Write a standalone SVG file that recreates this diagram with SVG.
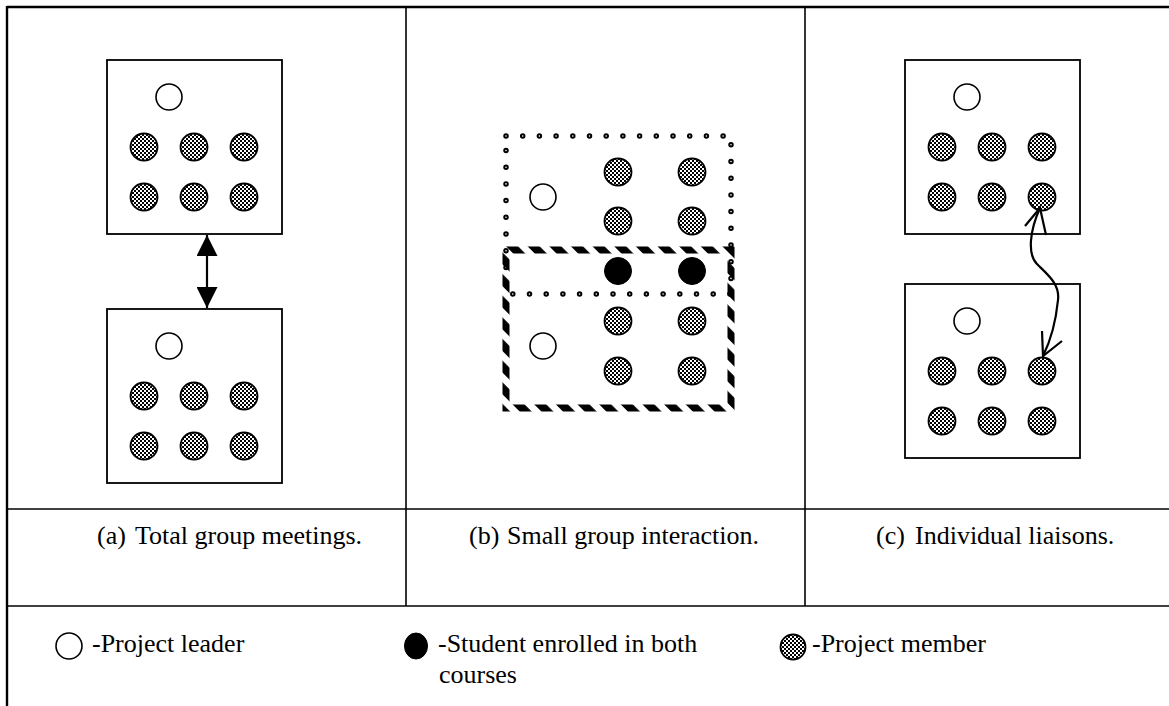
<svg xmlns="http://www.w3.org/2000/svg" width="1169" height="706" viewBox="0 0 1169 706">
<style>
.frame{stroke:#000;stroke-width:2.4;fill:none}
.div{stroke:#000;stroke-width:1.6;fill:none}
.box{stroke:#000;stroke-width:1.8;fill:none}
.leader{fill:#fff;stroke:#000;stroke-width:1.6}
.member{fill:url(#checker);stroke:#000;stroke-width:1.8}
.both{fill:#000;stroke:#000;stroke-width:1}
.txt{font-family:"Liberation Serif","Times New Roman",serif;font-size:26px;fill:#000}
.conn{stroke:#000;stroke-width:2.2;fill:none}
.dots{fill:none;stroke-linecap:round;stroke-dasharray:0 16.7}
</style>
<defs>
<pattern id="checker" width="4" height="4" patternUnits="userSpaceOnUse">
<rect width="4" height="4" fill="#fff"/>
<rect width="2" height="2" fill="#000"/>
<rect x="2" y="2" width="2" height="2" fill="#000"/>
</pattern>
<pattern id="stripes" width="15.3" height="15.3" patternUnits="userSpaceOnUse" patternTransform="rotate(-45)">
<rect width="8.5" height="15.3" fill="#000"/>
</pattern>
<marker id="tri" viewBox="0 0 10 10" refX="10" refY="5" markerWidth="21" markerHeight="21" markerUnits="userSpaceOnUse" orient="auto-start-reverse">
<path d="M0,0 L10,5 L0,10 z" fill="#000"/>
</marker>
</defs>

<g id="table">
<line class="frame" x1="7" y1="7" x2="1169" y2="7"/>
<line class="frame" x1="7" y1="6" x2="7" y2="706"/>
<line class="div" x1="406" y1="7" x2="406" y2="606"/>
<line class="div" x1="805" y1="7" x2="805" y2="606"/>
<line class="div" x1="7" y1="509" x2="1169" y2="509"/>
<line class="div" x1="7" y1="606" x2="1169" y2="606"/>
</g>

<g id="a-top">
<rect class="box" x="107" y="60" width="175" height="174"/>
<circle class="leader" cx="169" cy="97" r="13"/>
<circle class="member" cx="144" cy="147" r="13.5"/>
<circle class="member" cx="194" cy="147" r="13.5"/>
<circle class="member" cx="244" cy="147" r="13.5"/>
<circle class="member" cx="144" cy="197" r="13.5"/>
<circle class="member" cx="194" cy="197" r="13.5"/>
<circle class="member" cx="244" cy="197" r="13.5"/>
</g>
<g id="a-bottom">
<rect class="box" x="107" y="309" width="175" height="174"/>
<circle class="leader" cx="169" cy="346" r="13"/>
<circle class="member" cx="144" cy="396" r="13.5"/>
<circle class="member" cx="194" cy="396" r="13.5"/>
<circle class="member" cx="244" cy="396" r="13.5"/>
<circle class="member" cx="144" cy="446" r="13.5"/>
<circle class="member" cx="194" cy="446" r="13.5"/>
<circle class="member" cx="244" cy="446" r="13.5"/>
</g>

<g id="b-groups">
<rect class="dots" x="506" y="136" width="225" height="158" stroke="#000" stroke-width="5.5"/>
<rect class="dots" x="506" y="136" width="225" height="158" stroke="#fff" stroke-width="1.6"/>
<rect x="506" y="250" width="225" height="158" fill="none" stroke="url(#stripes)" stroke-width="7"/>
<circle class="leader" cx="543" cy="197" r="13"/>
<circle class="member" cx="618" cy="172" r="13.5"/>
<circle class="member" cx="692" cy="172" r="13.5"/>
<circle class="member" cx="618" cy="221" r="13.5"/>
<circle class="member" cx="692" cy="221" r="13.5"/>
<circle class="both" cx="618" cy="271" r="13.5"/>
<circle class="both" cx="692" cy="271" r="13.5"/>
<circle class="leader" cx="543" cy="346" r="13"/>
<circle class="member" cx="618" cy="321" r="13.5"/>
<circle class="member" cx="692" cy="321" r="13.5"/>
<circle class="member" cx="618" cy="371" r="13.5"/>
<circle class="member" cx="692" cy="371" r="13.5"/>
</g>

<g id="c-top">
<rect class="box" x="905" y="60" width="175" height="174"/>
<circle class="leader" cx="967" cy="97" r="13"/>
<circle class="member" cx="942" cy="147" r="13.5"/>
<circle class="member" cx="992" cy="147" r="13.5"/>
<circle class="member" cx="1042" cy="147" r="13.5"/>
<circle class="member" cx="942" cy="197" r="13.5"/>
<circle class="member" cx="992" cy="197" r="13.5"/>
<circle class="member" cx="1042" cy="197" r="13.5"/>
</g>
<g id="c-bottom">
<rect class="box" x="905" y="284" width="175" height="174"/>
<circle class="leader" cx="967" cy="321" r="13"/>
<circle class="member" cx="942" cy="371" r="13.5"/>
<circle class="member" cx="992" cy="371" r="13.5"/>
<circle class="member" cx="1042" cy="371" r="13.5"/>
<circle class="member" cx="942" cy="421" r="13.5"/>
<circle class="member" cx="992" cy="421" r="13.5"/>
<circle class="member" cx="1042" cy="421" r="13.5"/>
</g>

<g id="connectors">
<line class="conn" x1="207" y1="235" x2="207" y2="308" marker-start="url(#tri)" marker-end="url(#tri)"/>
<path class="conn" d="M1040,208 C1030,230 1027,254 1037,264 C1048,275 1060,284 1058,300 C1056,320 1051,340 1043,356"/>
<path class="conn" d="M1025,226 L1040,208 L1046,235"/>
<path class="conn" d="M1042,331 L1043,356 L1062,341"/>
</g>

<g id="captions">
<text class="txt" x="97" y="544">(a)</text>
<text class="txt" x="135" y="544">Total group meetings.</text>
<text class="txt" x="469" y="544">(b)</text>
<text class="txt" x="507" y="544">Small group interaction.</text>
<text class="txt" x="876" y="544">(c)</text>
<text class="txt" x="915" y="544">Individual liaisons.</text>
</g>

<g id="legend">
<circle class="leader" cx="69" cy="646" r="13"/>
<text class="txt" x="92" y="652">-Project leader</text>
<ellipse class="both" cx="416" cy="646" rx="11.5" ry="13"/>
<text class="txt" x="438" y="652">-Student enrolled in both</text>
<text class="txt" x="439" y="683">courses</text>
<circle class="member" cx="793" cy="647" r="12.5"/>
<text class="txt" x="812" y="652">-Project member</text>
</g>
</svg>
